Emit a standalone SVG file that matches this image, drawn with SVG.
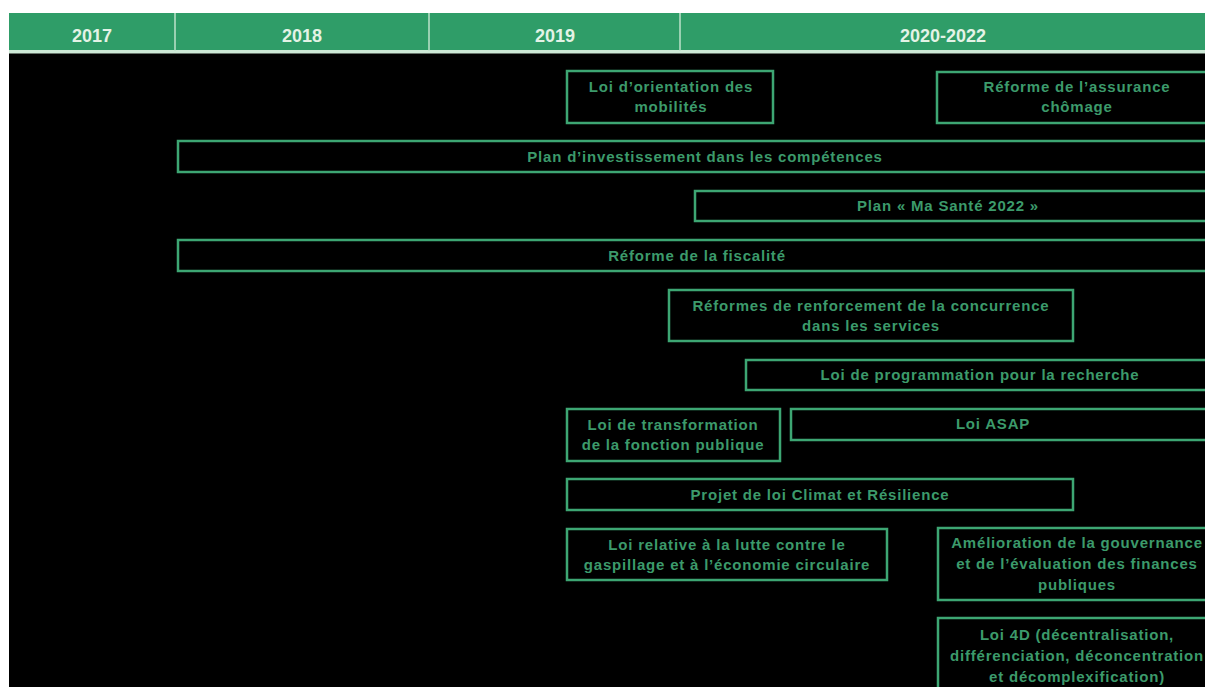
<svg xmlns="http://www.w3.org/2000/svg" width="1205" height="687" viewBox="0 0 1205 687">
<style>
.box{fill:#000;stroke:#3da673;stroke-width:2.5}
.t{font-family:"Liberation Sans",Arial,sans-serif;font-weight:bold;font-size:15px;fill:#3c9a6b;text-anchor:middle;letter-spacing:0.8px}
.h{font-family:"Liberation Sans",Arial,sans-serif;font-weight:bold;font-size:18px;fill:#e4f3e6;text-anchor:middle}
.div{stroke:#bfe3cb;stroke-width:1.5}
</style>
<rect x="0" y="0" width="1205" height="687" fill="#fff"/>
<rect x="9" y="13" width="1196" height="674" fill="#000"/>
<g id="header">
<rect x="9" y="13" width="1196" height="38" fill="#2f9d68"/>
<rect x="9" y="50" width="1196" height="3.5" fill="#cde9d6"/>
<line class="div" x1="175" y1="13" x2="175" y2="51"/>
<line class="div" x1="429" y1="13" x2="429" y2="51"/>
<line class="div" x1="680" y1="13" x2="680" y2="51"/>
<text class="h" x="92" y="42">2017</text>
<text class="h" x="302" y="42">2018</text>
<text class="h" x="555" y="42">2019</text>
<text class="h" x="943" y="42">2020-2022</text>
</g>
<g id="connectors"/>
<g id="n-mobilites">
<rect class="box" x="567" y="71" width="206" height="52"/>
<text class="t" x="671" y="92">Loi d’orientation des</text>
<text class="t" x="671" y="112">mobilités</text>
</g>
<g id="n-chomage">
<rect class="box" x="937" y="72" width="280" height="51"/>
<text class="t" x="1077" y="92">Réforme de l’assurance</text>
<text class="t" x="1077" y="112">chômage</text>
</g>
<g id="n-competences">
<rect class="box" x="178" y="141" width="1040" height="31"/>
<text class="t" x="705" y="162">Plan d’investissement dans les compétences</text>
</g>
<g id="n-sante">
<rect class="box" x="695" y="191" width="523" height="30"/>
<text class="t" x="948" y="211">Plan « Ma Santé 2022 »</text>
</g>
<g id="n-fiscalite">
<rect class="box" x="178" y="240" width="1040" height="31"/>
<text class="t" x="697" y="261">Réforme de la fiscalité</text>
</g>
<g id="n-concurrence">
<rect class="box" x="669" y="290" width="404" height="51"/>
<text class="t" x="871" y="311">Réformes de renforcement de la concurrence</text>
<text class="t" x="871" y="331">dans les services</text>
</g>
<g id="n-recherche">
<rect class="box" x="746" y="360" width="472" height="30"/>
<text class="t" x="980" y="380">Loi de programmation pour la recherche</text>
</g>
<g id="n-fonction-publique">
<rect class="box" x="567" y="409" width="213" height="52"/>
<text class="t" x="673" y="430">Loi de transformation</text>
<text class="t" x="673" y="450">de la fonction publique</text>
</g>
<g id="n-asap">
<rect class="box" x="791" y="409" width="427" height="31"/>
<text class="t" x="993" y="429">Loi ASAP</text>
</g>
<g id="n-climat">
<rect class="box" x="567" y="479" width="506" height="31"/>
<text class="t" x="820" y="500">Projet de loi Climat et Résilience</text>
</g>
<g id="n-gaspillage">
<rect class="box" x="567" y="529" width="320" height="51"/>
<text class="t" x="727" y="550">Loi relative à la lutte contre le</text>
<text class="t" x="727" y="570">gaspillage et à l’économie circulaire</text>
</g>
<g id="n-finances">
<rect class="box" x="938" y="528" width="280" height="72"/>
<text class="t" x="1077" y="548">Amélioration de la gouvernance</text>
<text class="t" x="1077" y="569">et de l’évaluation des finances</text>
<text class="t" x="1077" y="590">publiques</text>
</g>
<g id="n-loi4d">
<rect class="box" x="938" y="618" width="280" height="80"/>
<text class="t" x="1077" y="640">Loi 4D (décentralisation,</text>
<text class="t" x="1077" y="661">différenciation, déconcentration</text>
<text class="t" x="1077" y="682">et décomplexification)</text>
</g>
</svg>
